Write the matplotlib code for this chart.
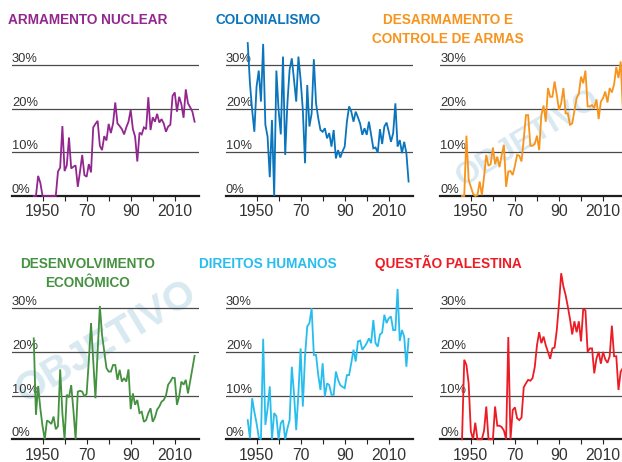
import matplotlib
matplotlib.use("Agg")
import matplotlib.pyplot as plt
from matplotlib import font_manager
from matplotlib.font_manager import FontProperties

years = list(range(1946, 2020))

armamento_nuclear = [0, 0, 4.6, 3, 0, 0, 0, 0, 0, 0, 0, 5.6, 6.5, 16, 5.7, 7, 13.4, 6.3, 6.7, 7,
                     2.1, 5.6, 9.4, 4.8, 4.4, 7.3, 5.4, 15.7, 16.5, 17.2, 11.5, 10.5, 13.7, 12.7,
                     16.5, 14.4, 16.6, 21.4, 16.6, 16, 15.3, 14.1, 15.7, 17, 19.7, 15.3, 13.6, 7.9,
                     14.5, 14.1, 15.7, 15.3, 22.6, 15.1, 18, 17, 18.8, 16.8, 17.6, 16.6, 14.7, 15.9,
                     16.3, 22.9, 23.7, 19.3, 22.7, 21, 17.9, 24.4, 21.2, 20.3, 19.3, 17]
colonialismo = [35, 25.8, 19.7, 14.7, 25, 28.7, 21.6, 34.8, 16.3, 13.6, 4.3, 17.4, 0, 28.7, 19.7,
                14.1, 31.9, 9.4, 21.2, 28.9, 31.5, 26.6, 21.6, 31.9, 26.6, 19.7, 7.5, 25.4, 15.9,
                18.9, 31.3, 21.2, 17.8, 15.1, 14.7, 15.5, 13.2, 14.4, 11.3, 15.1, 8.6, 10.5, 8.8,
                10.2, 11.3, 17, 20.5, 19.3, 17, 19.3, 18, 16.6, 14, 15.5, 14, 17, 14, 10.9, 11.1,
                9.9, 15.3, 11.9, 15.9, 16.8, 14.7, 12.4, 14.4, 21.2, 11.3, 12.8, 9.8, 12.4, 9.8, 3.3]
desarmamento = [0, 0, 13.8, 3.7, 2.1, 0.5, 0, 0.2, 3.3, 0.2, 4.4, 9.4, 6.9, 7.3, 11.1, 7.3, 9, 6.6,
                9.4, 11.7, 2.1, 5.6, 5.7, 4.8, 6.9, 9.4, 9.2, 7.9, 13, 18.5, 18.5, 11.5, 11.5, 11.9,
                13.8, 10.5, 18.5, 20.7, 17, 24.7, 22.7, 22.7, 26.2, 23.1, 19.7, 21.2, 24.7, 18.9,
                18.9, 16.3, 16.6, 19.5, 22.4, 23.4, 27.3, 25.8, 28.7, 20.5, 20.5, 20.8, 20.1, 22.1,
                17.6, 21.6, 22.4, 23.9, 21.4, 24.7, 23.7, 25.5, 29.5, 27, 30.8, 19.5]
desenvolvimento = [23.1, 5.6, 12.2, 7, 3, 0, 4.3, 4, 3.5, 5.2, 2.3, 3, 16, 6, 0, 10.2, 9.6, 12.4,
                   6.7, 0, 10.9, 11.1, 10.9, 9.8, 10.4, 18, 26.6, 18, 9.4, 20, 30.5, 23.9, 20.1,
                   16.3, 15.5, 15.5, 17, 17, 13.6, 15.9, 13.2, 14, 13.2, 16, 6.9, 10.5, 7.9, 9, 6,
                   6.3, 4, 4.4, 6, 7.1, 4.0, 5, 6.8, 7.5, 8.6, 9, 10, 12.5, 13.2, 14.1, 14, 7.9,
                   9.8, 13.2, 12.5, 13.6, 10.5, 13.3, 16.2, 19.1]
direitos_humanos = [4.4, 0.2, 9.4, 6.3, 3.7, 0.5, 0, 23, 3.3, 7, 12.1, 0, 6, 5.3, 0, 3.7, 4.4, 0,
                    2.5, 4.4, 16.6, 10.5, 2.1, 10.5, 20.8, 7.5, 19, 25.8, 26.6, 30, 19.3, 19.3,
                    14.7, 11.3, 17.4, 9.8, 12.8, 12.4, 10.2, 10.2, 15.5, 13.6, 12.4, 12, 11.7, 14.7,
                    14.7, 17.5, 20.5, 17.8, 22.4, 22.6, 20.5, 21.2, 22, 23.1, 22, 27.3, 22, 21.2,
                    24, 24.4, 28.5, 26.6, 27.7, 28.1, 25, 25, 34.4, 22.5, 25, 23.5, 16.6, 23]
questao_palestina = [0, 18.2, 17, 12.8, 1.8, 0, 3.8, 0, 0, 0, 2, 7.5, 0, 0, 0, 7.5, 3.1, 3.1, 2.8,
                     2, 0, 23.4, 0, 6.7, 7.3, 4.8, 4.4, 5, 11.9, 12.8, 13.6, 13.4, 14, 16.5, 21.5,
                     24.5, 22, 23.5, 21.5, 20, 18.4, 20.8, 21, 25, 31, 38, 35, 33, 30.4, 27.5, 24,
                     27, 24.5, 27, 22.4, 29.8, 29.5, 20, 20.8, 20.8, 15.1, 18.5, 20, 17.3, 20, 18.3,
                     17.5, 19, 26, 19, 19, 11.3, 15.5, 16.3]

titles = [["ARMAMENTO NUCLEAR"], ["COLONIALISMO"], ["DESARMAMENTO E", "CONTROLE DE ARMAS"],
          ["DESENVOLVIMENTO", "ECONÔMICO"], ["DIREITOS HUMANOS"], ["QUESTÃO PALESTINA"]]
series = [armamento_nuclear, colonialismo, desarmamento, desenvolvimento, direitos_humanos,
          questao_palestina]
colors = ["#92278f", "#0a74bc", "#f7941d", "#449140", "#27bdee", "#ed1c24"]

y_ticks = [0, 10, 20, 30]
x_ticks = list(range(1950, 2011, 10))
x_ticklabels = ["1950", "", "70", "", "90", "", "2010"]

W, H = 622, 462
fig = plt.figure(figsize=(W / 100, H / 100), dpi=100)


def has_font(name):
    try:
        font_manager.findfont(FontProperties(family=name), fallback_to_default=False)
        return True
    except Exception:
        return False


narrow = has_font("Liberation Sans Narrow")
title_family = "Liberation Sans Narrow" if narrow else "Liberation Sans"
title_size = 11.6 if narrow else 9.8
base_family = "Liberation Sans"

# faint watermark (background)
for (cx, cy, fs) in [(106, 342, 29), (528, 138, 23)]:
    fig.text(cx / W, 1 - cy / H, "OBJETIVO", ha="center", va="center", rotation=31,
             fontsize=fs, fontweight="bold", color="#d9e9f1", family=base_family,
             zorder=-5)

px_per_pct = 4.37
ax_w = 187.3
lefts = [11.7, 225.7, 440.0]
zeros = [196.0, 439.3]
title_cx = [88, 268, 448]
title_base = [24.0, 267.7]

for i, (vals, col, tl) in enumerate(zip(series, colors, titles)):
    r, c = divmod(i, 3)
    zero = zeros[r]
    top = zero - 40 * px_per_pct
    ax = fig.add_axes([lefts[c] / W, (H - zero) / H, ax_w / W, (zero - top) / H])
    ax.set_xlim(1936, 2021)
    ax.set_ylim(0, 40)
    for s in ax.spines.values():
        s.set_visible(False)
    ax.set_facecolor("none")
    for v in y_ticks[1:]:
        ax.axhline(v, color="#4a4a4a", lw=0.9, zorder=1)
    ax.axhline(0, color="#1e1e1e", lw=1.6, zorder=2, clip_on=False)
    for v in y_ticks:
        ax.text(1936.1, v, f"{v}%", ha="left", va="bottom", fontsize=9.3,
                color="#333333", family=base_family, zorder=1)
    ax.plot(years, vals, color=col, lw=1.3, zorder=3, clip_on=False,
            solid_joinstyle="miter")
    ax.set_yticks([])
    ax.set_xticks(x_ticks)
    ax.set_xticklabels(x_ticklabels, fontsize=11.3, color="#333333", family=base_family)
    ax.tick_params(axis="x", length=3.4, width=0.8, color="#222222", pad=2.6, direction="out")

    for j, line in enumerate(tl):
        yb = title_base[r] + j * 19.2
        fig.text(title_cx[c] / W, 1 - yb / H, line, ha="center", va="baseline",
                 fontsize=title_size, fontweight="bold", color=col, family=title_family)

fig.savefig("out.png", dpi=100)
